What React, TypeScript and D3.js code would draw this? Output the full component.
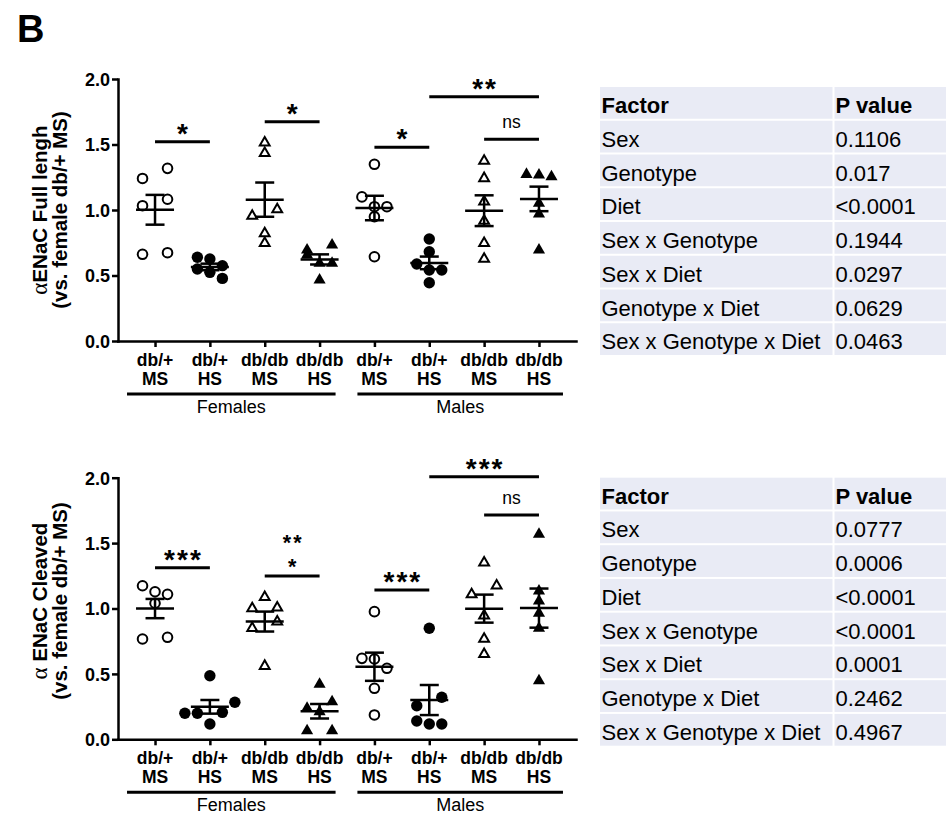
import * as d3 from "d3";
import { useEffect, useRef } from "react";

const FONT = "'Liberation Sans', Arial, Helvetica, sans-serif";

// groups along the x axis
const genotypes = ["db/+", "db/+", "db/db", "db/db", "db/+", "db/+", "db/db", "db/db"];
const diets = ["MS", "HS", "MS", "HS", "MS", "HS", "MS", "HS"];
const markerKinds = [
  "openCircle", "filledCircle", "openTriangle", "filledTriangle",
  "openCircle", "filledCircle", "openTriangle", "filledTriangle",
];
const sexes = ["Females", "Males"];
const sexSpans = [[0, 3], [4, 7]];
const yTicks = [0, 0.5, 1.0, 1.5, 2.0];

// αENaC full length (vs. female db/+ MS)
const fullLength = [
  [1.318, 1.241, 1.082, 1.033, 0.674, 0.662],
  [0.639, 0.626, 0.575, 0.55, 0.524, 0.478],
  [1.514, 1.433, 1.005, 0.954, 0.822, 0.746],
  [0.733, 0.695, 0.656, 0.593, 0.593, 0.466],
  [1.349, 1.1, 1.025, 1.025, 0.949, 0.643],
  [0.779, 0.682, 0.588, 0.542, 0.542, 0.445],
  [1.374, 1.242, 1.064, 0.916, 0.746, 0.626],
  [1.272, 1.267, 1.254, 1.051, 0.969, 0.695],
];

// αENaC cleaved (vs. female db/+ MS)
const cleaved = [
  [1.174, 1.128, 1.108, 1.04, 0.78, 0.767],
  [0.486, 0.283, 0.206, 0.199, 0.199, 0.117],
  [1.086, 1.006, 1.001, 0.899, 0.849, 0.56],
  [0.42, 0.287, 0.237, 0.211, 0.066, 0.066],
  [0.976, 0.619, 0.614, 0.543, 0.39, 0.186],
  [0.849, 0.321, 0.257, 0.14, 0.117, 0.117],
  [1.35, 1.174, 1.108, 0.945, 0.767, 0.65],
  [1.567, 1.134, 1.057, 0.963, 0.849, 0.448],
];

type Sig = { from: number; to: number; y: number; labels: string[] };

const fullSig: Sig[] = [
  { from: 0, to: 1, y: 1.521, labels: ["*"] },
  { from: 2, to: 3, y: 1.674, labels: ["*"] },
  { from: 4, to: 5, y: 1.479, labels: ["*"] },
  { from: 5, to: 7, y: 1.865, labels: ["**"] },
  { from: 6, to: 7, y: 1.54, labels: ["ns"] },
];
const cleavedSig: Sig[] = [
  { from: 0, to: 1, y: 1.312, labels: ["***"] },
  { from: 2, to: 3, y: 1.248, labels: ["**", "*"] },
  { from: 4, to: 5, y: 1.141, labels: ["***"] },
  { from: 5, to: 7, y: 2.008, labels: ["***"] },
  { from: 6, to: 7, y: 1.715, labels: ["ns"] },
];

const factors = [
  "Sex", "Genotype", "Diet", "Sex x Genotype", "Sex x Diet",
  "Genotype x Diet", "Sex x Genotype x Diet",
];
const pFull = ["0.1106", "0.017", "<0.0001", "0.1944", "0.0297", "0.0629", "0.0463"];
const pCleaved = ["0.0777", "0.0006", "<0.0001", "<0.0001", "0.0001", "0.2462", "0.4967"];

// spread points that sit at about the same height into a row
function swarm(values: number[], y: (v: number) => number, thresh: number, slot: number) {
  const order = d3.range(values.length).sort((a, b) => values[b] - values[a]);
  const offsets = new Array(values.length).fill(0);
  let row: number[] = [];
  const flush = () => {
    const n = row.length;
    const ids = n % 2 ? row : row.slice().reverse();
    ids.forEach((id, i) => {
      let k;
      if (n % 2) k = i - (n - 1) / 2;
      else {
        k = i - n / 2;
        if (k >= 0) k += 1;
      }
      offsets[id] = k * slot;
    });
  };
  for (const id of order) {
    if (row.length && Math.abs(y(values[id]) - y(values[row[0]])) >= thresh) {
      flush();
      row = [];
    }
    row.push(id);
  }
  flush();
  return offsets;
}

function drawPanel(
  svg: any,
  values: number[][],
  sig: Sig[],
  yTop: number,
  yBottom: number,
  title1: string,
  titleY: number
) {
  const y = d3.scaleLinear().domain([0, 2]).range([yBottom, yTop]);
  const x = d3.scalePoint<number>().domain(d3.range(8)).range([118, 576]).padding(0.675);
  const g = svg.append("g");

  // y axis
  const yAxis = g
    .append("g")
    .attr("transform", "translate(118,0)")
    .call(d3.axisLeft(y).tickValues(yTicks).tickFormat(d3.format(".1f")).tickSize(6).tickSizeOuter(0));
  yAxis.select(".domain").attr("stroke-width", 2.5).attr("stroke-linecap", "square");
  yAxis.selectAll(".tick line").attr("stroke-width", 2.5);
  yAxis
    .selectAll(".tick text")
    .attr("font-family", FONT)
    .attr("font-size", 18)
    .attr("font-weight", "bold")
    .attr("fill", "#000")
    .attr("x", -8)
    .attr("dy", "0.36em");

  // x axis
  const xAxis = g
    .append("g")
    .attr("transform", `translate(0,${yBottom})`)
    .call(d3.axisBottom(x).tickSize(6).tickSizeOuter(0).tickFormat(() => ""));
  xAxis.select(".domain").attr("stroke-width", 2.5).attr("stroke-linecap", "square");
  xAxis.selectAll(".tick line").attr("stroke-width", 2.5);

  const labels = g.append("g").attr("font-family", FONT).attr("text-anchor", "middle");
  d3.range(8).forEach((i) => {
    labels
      .append("text")
      .attr("x", x(i))
      .attr("y", yBottom + 25)
      .attr("font-size", 17.5)
      .attr("font-weight", "bold")
      .text(genotypes[i]);
    labels
      .append("text")
      .attr("x", x(i))
      .attr("y", yBottom + 44)
      .attr("font-size", 17.5)
      .attr("font-weight", "bold")
      .text(diets[i]);
  });

  sexes.forEach((s, j) => {
    const [a, b] = sexSpans[j];
    const x0 = j === 0 ? x(a)! - 28 : x(a)! - 17;
    const x1 = j === 0 ? x(b)! + 16 : x(b)! + 24;
    g.append("line")
      .attr("x1", x0)
      .attr("x2", x1)
      .attr("y1", yBottom + 53)
      .attr("y2", yBottom + 53)
      .attr("stroke", "#000")
      .attr("stroke-width", 3);
    labels
      .append("text")
      .attr("x", (x0 + x1) / 2)
      .attr("y", yBottom + 72)
      .attr("font-size", 18)
      .text(s);
  });

  // y title, two lines
  const tg = g
    .append("g")
    .attr("font-family", FONT)
    .attr("font-weight", "bold")
    .attr("font-size", 20.5)
    .attr("text-anchor", "middle");
  const t1 = tg.append("text").attr("transform", `translate(47,${titleY}) rotate(-90)`);
  t1.append("tspan")
    .attr("font-family", "'Liberation Serif', 'DejaVu Serif', serif")
    .attr("font-weight", "normal")
    .attr("font-size", 23)
    .text("α");
  t1.append("tspan").text(title1);
  tg.append("text")
    .attr("transform", `translate(67,${titleY}) rotate(-90)`)
    .text("(vs. female db/+ MS)");

  // points
  const pts = g.append("g");
  values.forEach((vals, i) => {
    const kind = markerKinds[i];
    const isTri = kind.includes("Triangle");
    const offs = swarm(vals, y, isTri ? 9.5 : 11, 12.5);
    vals.forEach((v, k) => {
      const cx = x(i)! + offs[k];
      const cy = y(v);
      if (kind === "openCircle") {
        pts.append("circle").attr("cx", cx).attr("cy", cy).attr("r", 4.8)
          .attr("fill", "#fff").attr("stroke", "#000").attr("stroke-width", 2);
      } else if (kind === "filledCircle") {
        pts.append("circle").attr("cx", cx).attr("cy", cy).attr("r", 5.7).attr("fill", "#000");
      } else if (kind === "openTriangle") {
        pts.append("path")
          .attr("d", d3.symbol().type(d3.symbolTriangle).size(42)())
          .attr("transform", `translate(${cx},${cy})`)
          .attr("fill", "#fff").attr("stroke", "#000").attr("stroke-width", 2);
      } else {
        pts.append("path")
          .attr("d", d3.symbol().type(d3.symbolTriangle).size(64)())
          .attr("transform", `translate(${cx},${cy})`)
          .attr("fill", "#000");
      }
    });
  });

  // mean ± SEM
  const ms = g.append("g").attr("stroke", "#000").attr("stroke-width", 2.5);
  values.forEach((vals, i) => {
    const m = d3.mean(vals)!;
    const sem = d3.deviation(vals)! / Math.sqrt(vals.length);
    const cx = x(i)!;
    ms.append("line").attr("x1", cx - 19).attr("x2", cx + 19).attr("y1", y(m)).attr("y2", y(m));
    ms.append("line").attr("x1", cx).attr("x2", cx).attr("y1", y(m - sem)).attr("y2", y(m + sem));
    [m - sem, m + sem].forEach((e) =>
      ms.append("line").attr("x1", cx - 9.5).attr("x2", cx + 9.5).attr("y1", y(e)).attr("y2", y(e))
    );
  });

  // significance bars
  const sg = g.append("g").attr("font-family", FONT).attr("text-anchor", "middle");
  sig.forEach((s) => {
    const ly = y(s.y);
    const x0 = x(s.from)!;
    const x1 = x(s.to)!;
    const cx = (x0 + x1) / 2;
    sg.append("line").attr("x1", x0).attr("x2", x1).attr("y1", ly).attr("y2", ly)
      .attr("stroke", "#000").attr("stroke-width", 3);
    const isNs = s.labels[0] === "ns";
    const n = s.labels.length;
    // stacked labels get a smaller size so the two lines keep clear of each other
    const fs = isNs ? 17.5 : n > 1 ? 21.5 : 28;
    s.labels.forEach((lab, k) => {
      const base = isNs ? ly - 11 : n > 1 ? ly - 2 - (n - 1 - k) * 24.5 : ly + 1;
      sg.append("text")
        .attr("x", cx + (isNs ? 0 : 1))
        .attr("y", base)
        .attr("font-size", fs)
        .attr("font-weight", isNs ? "normal" : "bold")
        .attr("letter-spacing", isNs ? 0 : 2)
        .text(lab);
    });
  });
}

function drawTable(svg: any, top: number, pvals: string[]) {
  const rowH = 33.75;
  const g = svg.append("g").attr("font-family", FONT).attr("font-size", 22);
  const rows = [["Factor", "P value"], ...factors.map((f, i) => [f, pvals[i]])];
  rows.forEach((r, i) => {
    const ry = top + i * rowH;
    g.append("rect").attr("x", 600).attr("y", ry + 1).attr("width", 232.5).attr("height", rowH - 2).attr("fill", "#E9EBF5");
    g.append("rect").attr("x", 834.5).attr("y", ry + 1).attr("width", 112).attr("height", rowH - 2).attr("fill", "#E9EBF5");
    g.append("text").attr("x", 601.5).attr("y", ry + 27).attr("font-weight", i === 0 ? "bold" : "normal").text(r[0]);
    g.append("text").attr("x", 835.5).attr("y", ry + 27).attr("font-weight", i === 0 ? "bold" : "normal").text(r[1]);
  });
}

const App = () => {
  const ref = useRef<SVGSVGElement>(null);

  useEffect(() => {
    const svg = d3.select(ref.current);
    svg.selectAll("*").remove();
    svg.append("rect").attr("width", 946).attr("height", 814).attr("fill", "#fff");
    svg.append("text")
      .attr("x", 17)
      .attr("y", 42)
      .attr("font-family", FONT)
      .attr("font-weight", "bold")
      .attr("font-size", 38)
      .text("B");

    drawPanel(svg, fullLength, fullSig, 79, 341, "ENaC Full lengh", 210);
    drawPanel(svg, cleaved, cleavedSig, 477.7, 739.3, " ENaC Cleaved", 601);
    drawTable(svg, 86, pFull);
    drawTable(svg, 476.7, pCleaved);
  }, []);

  return (
    <svg
      ref={ref}
      width={946}
      height={814}
      style={{ position: "absolute", left: 0, top: 0, display: "block" }}
    />
  );
};

export default App;
